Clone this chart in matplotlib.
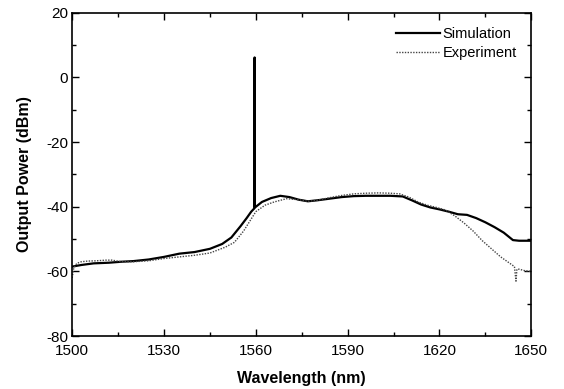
import matplotlib
matplotlib.use("Agg")
import matplotlib.pyplot as plt
from matplotlib.ticker import MultipleLocator

plt.rcParams["font.family"] = ["Liberation Sans", "DejaVu Sans"]
plt.rcParams["axes.unicode_minus"] = False

# simulated spectrum (solid)
sim_wl = [1500, 1503, 1507, 1512, 1516, 1520, 1525, 1530, 1535, 1540, 1545,
          1549, 1552, 1555, 1557, 1558.5, 1559.5, 1559.6, 1559.7, 1560, 1562,
          1565, 1568, 1571, 1574, 1577, 1580, 1584, 1588, 1592, 1596, 1600,
          1604, 1608, 1611, 1614, 1617, 1620, 1623, 1626, 1629, 1632, 1635,
          1638, 1641, 1644, 1646, 1650]
sim_db = [-58.5, -58.0, -57.5, -57.3, -57.0, -56.8, -56.3, -55.5, -54.5, -54.0,
          -53.0, -51.5, -49.5, -46.0, -43.5, -41.5, -40.5, 6.2, -40.2, -40.0,
          -38.5, -37.3, -36.6, -37.0, -37.8, -38.3, -38.0, -37.5, -37.0, -36.7,
          -36.6, -36.6, -36.6, -36.8, -38.0, -39.3, -40.2, -40.8, -41.5, -42.3,
          -42.5, -43.5, -44.8, -46.3, -48.0, -50.3, -50.5, -50.5]

# measured spectrum (dotted)
exp_wl = [1500, 1500.5, 1501.5, 1503, 1505, 1508, 1511, 1513, 1516, 1520, 1525,
          1530, 1535, 1540, 1545, 1550, 1553, 1556, 1558, 1560, 1563, 1566,
          1570, 1574, 1577, 1580, 1584, 1588, 1592, 1596, 1600, 1604, 1607,
          1610, 1613, 1616, 1619, 1622, 1625, 1628, 1631, 1634, 1637, 1640,
          1643, 1644.5, 1645, 1645.3, 1646, 1648, 1650]
exp_db = [-62.0, -59.0, -57.5, -57.0, -56.8, -56.7, -56.5, -56.5, -57.0, -57.0,
          -56.7, -56.0, -55.5, -55.0, -54.3, -52.5, -51.0, -47.5, -44.5, -41.5,
          -39.5, -38.5, -37.5, -37.8, -38.3, -38.0, -37.2, -36.5, -36.0, -35.8,
          -35.7, -35.8, -36.0, -37.0, -38.5, -39.5, -40.2, -41.0, -42.8, -45.0,
          -47.5, -50.5, -53.0, -55.5, -57.5, -58.5, -63.0, -59.3, -59.3, -59.8,
          -60.0]

fig = plt.figure(figsize=(5.64, 3.89), dpi=100)
ax = fig.add_axes([0.128, 0.136, 0.814, 0.831])

ax.plot(sim_wl, sim_db, color="black", lw=1.6, label="Simulation")
ax.plot(exp_wl, exp_db, color="#444444", lw=1.0, ls=(0, (1, 1)), label="Experiment")

ax.set_xlim(1500, 1650)
ax.set_ylim(-80, 20)
ax.xaxis.set_major_locator(MultipleLocator(30))
ax.xaxis.set_minor_locator(MultipleLocator(15))
ax.yaxis.set_major_locator(MultipleLocator(20))
ax.yaxis.set_minor_locator(MultipleLocator(10))
ax.tick_params(which="both", direction="in", top=True, right=True, labelsize=11)
ax.tick_params(axis="x", pad=6)
ax.tick_params(axis="y", pad=3)
ax.tick_params(which="major", length=5, width=1)
ax.tick_params(which="minor", length=3, width=1)
for s in ax.spines.values():
    s.set_linewidth(1.2)

ax.set_xlabel("Wavelength (nm)", fontsize=11.5, fontweight="bold", labelpad=9)
ax.set_ylabel("Output Power (dBm)", fontsize=11.5, fontweight="bold", labelpad=10)

ax.legend(loc="upper right", frameon=False, fontsize=10.5, handlelength=3.0,
          handletextpad=0.2, labelspacing=0.3, borderaxespad=0.6)

fig.savefig("out.png", dpi=100)
